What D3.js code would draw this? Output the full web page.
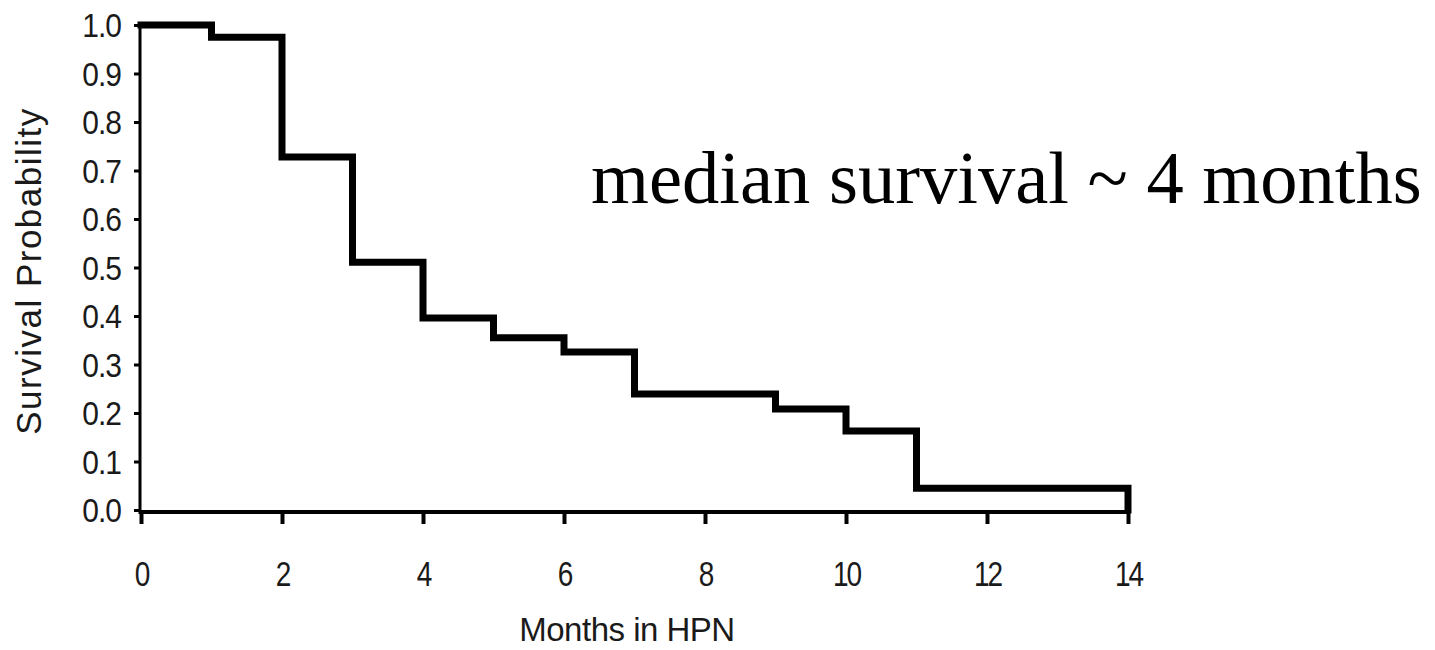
<!DOCTYPE html>
<html>
<head>
<meta charset="utf-8">
<script src="https://cdn.jsdelivr.net/npm/d3@7"></script>
<style>
  html, body { margin: 0; padding: 0; background: #fff; }
  svg { display: block; }
</style>
</head>
<body>
<svg id="chart" width="1435" height="650"></svg>
<script>
// Data
const months   = [0, 1, 2, 3, 4, 5, 6, 7, 9, 10, 11, 14];
const survival = [1.0, 0.975, 0.728, 0.511, 0.396, 0.355, 0.326, 0.239, 0.208, 0.163, 0.045, 0.0];
const xTicks = [0, 2, 4, 6, 8, 10, 12, 14];
const yTicks = [0, 0.1, 0.2, 0.3, 0.4, 0.5, 0.6, 0.7, 0.8, 0.9, 1.0];
const xTitle = "Months in HPN";
const yTitle = "Survival Probability";
const note = "median survival ~ 4 months";

const svg = d3.select("#chart");
const x = d3.scaleLinear().domain([0, 14]).range([141, 1128]);
const y = d3.scaleLinear().domain([0, 1]).range([510, 25]);

const sans = "'Liberation Sans', Arial, sans-serif";

// Y axis
const yAxis = svg.append("g").attr("transform", `translate(${x(0) - 1},0)`)
  .call(d3.axisLeft(y).tickValues(yTicks).tickSize(6).tickPadding(13)
    .tickFormat(d3.format(".1f")));
yAxis.select(".domain").attr("stroke", "#000").attr("stroke-width", 3)
  .attr("d", `M0,${y(1)}V${y(0) + 4}`);
yAxis.selectAll(".tick line").attr("stroke", "#000").attr("stroke-width", 3);
yAxis.selectAll(".tick text")
  .attr("font-family", sans).attr("font-size", 30).attr("fill", "#1a1a1a")
  .attr("letter-spacing", "-1px")
  .attr("dy", null).attr("y", 0).attr("dominant-baseline", "central")
  .attr("transform", "scale(1,1.12)");

// X axis
const xAxis = svg.append("g").attr("transform", `translate(0,${y(0) + 2})`)
  .call(d3.axisBottom(x).tickValues(xTicks).tickSize(12).tickPadding(0)
    .tickFormat(d3.format("d")));
xAxis.select(".domain").attr("stroke", "#000").attr("stroke-width", 4)
  .attr("d", `M${x(0) - 2},0H${x(14) + 2}`);
xAxis.selectAll(".tick line").attr("stroke", "#000").attr("stroke-width", 4);
xAxis.selectAll(".tick text")
  .attr("font-family", sans).attr("font-size", 28).attr("fill", "#1a1a1a")
  .attr("letter-spacing", "-2px")
  .attr("y", 0).attr("dy", null)
  .attr("dominant-baseline", "alphabetic")
  .attr("transform", "translate(0,74) scale(1,1.25)");

// Step survival curve
const line = d3.line().x((d, i) => x(months[i])).y((d, i) => y(survival[i]))
  .curve(d3.curveStepAfter);
svg.append("path").datum(survival)
  .attr("d", line)
  .attr("fill", "none").attr("stroke", "#000").attr("stroke-width", 7)
  .attr("stroke-linejoin", "miter").attr("stroke-linecap", "square");

// Axis titles
svg.append("text").text(xTitle)
  .attr("x", 627).attr("y", 641)
  .attr("text-anchor", "middle")
  .attr("font-family", sans).attr("font-size", 33).attr("fill", "#1a1a1a")
  .attr("letter-spacing", "-0.5px");

svg.append("text").text(yTitle)
  .attr("transform", "translate(41,271) rotate(-90)")
  .attr("text-anchor", "middle")
  .attr("font-family", sans).attr("font-size", 35).attr("fill", "#1a1a1a")
  .attr("letter-spacing", "1.5px");

// Annotation
svg.append("text").text(note)
  .attr("x", 591).attr("y", 203)
  .attr("font-family", "'Liberation Serif', 'Times New Roman', serif")
  .attr("font-size", 74.5).attr("fill", "#000");
</script>
</body>
</html>
